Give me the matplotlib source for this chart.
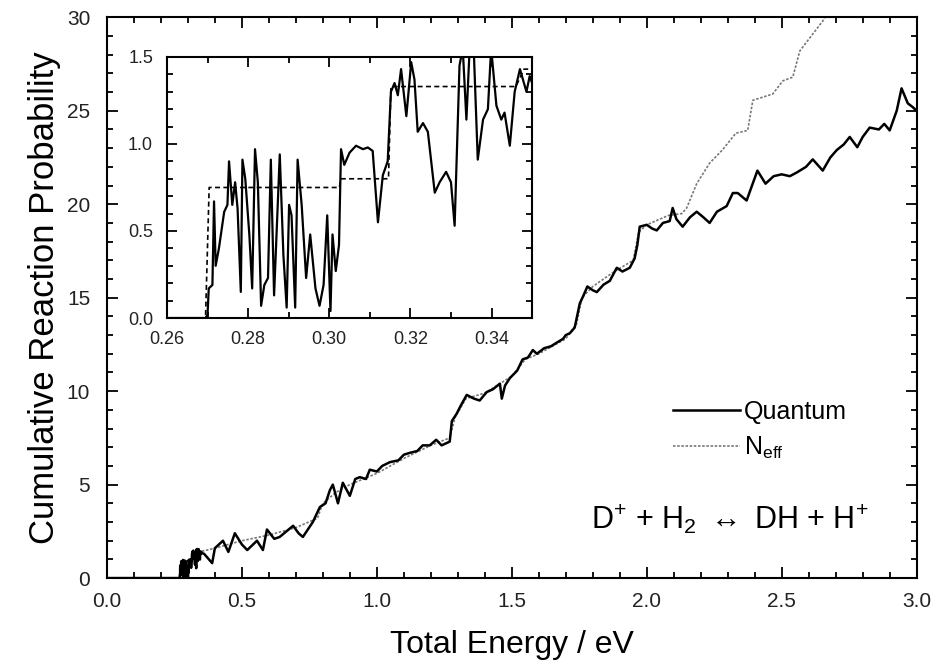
import numpy as np
import matplotlib
matplotlib.use("Agg")
import matplotlib.pyplot as plt
from matplotlib.lines import Line2D
from matplotlib.ticker import MultipleLocator

plt.rcParams['font.family'] = ['Liberation Sans', 'DejaVu Sans']
plt.rcParams['mathtext.fontset'] = 'custom'
plt.rcParams['mathtext.rm'] = 'Liberation Sans'
plt.rcParams['mathtext.it'] = 'Liberation Sans:italic'

# inset: quantum result near threshold
inset_E = [0.2600, 0.2695, 0.2700, 0.2703, 0.2712, 0.2716, 0.2720, 0.2728, 0.2741, 0.2749,
           0.2753, 0.2761, 0.2768, 0.2774, 0.2782, 0.2786, 0.2793, 0.2803, 0.2810, 0.2817,
           0.2824, 0.2832, 0.2840, 0.2849, 0.2856, 0.2864, 0.2878, 0.2887, 0.2895, 0.2901,
           0.2907, 0.2916, 0.2922, 0.2932, 0.2943, 0.2953, 0.2966, 0.2976, 0.2986, 0.2995,
           0.3003, 0.3008, 0.3016, 0.3024, 0.3029, 0.3037, 0.3050, 0.3066, 0.3083, 0.3095,
           0.3107, 0.3120, 0.3132, 0.3144, 0.3152, 0.3161, 0.3169, 0.3177, 0.3190, 0.3202,
           0.3210, 0.3218, 0.3231, 0.3243, 0.3260, 0.3272, 0.3288, 0.3300, 0.3309, 0.3321,
           0.3329, 0.3338, 0.3346, 0.3356, 0.3366, 0.3379, 0.3391, 0.3399, 0.3412, 0.3424,
           0.3432, 0.3445, 0.3457, 0.3470, 0.3486, 0.3494, 0.3500]
inset_Q = [0.0, 0.0, 0.02, 0.17, 0.19, 0.67, 0.30, 0.40, 0.61, 0.65,
           0.90, 0.65, 0.78, 0.63, 0.15, 0.91, 0.80, 0.48, 0.17, 0.97,
           0.78, 0.07, 0.19, 0.23, 0.91, 0.13, 0.94, 0.36, 0.06, 0.65,
           0.59, 0.06, 0.91, 0.65, 0.23, 0.48, 0.17, 0.07, 0.19, 0.59,
           0.04, 0.48, 0.27, 0.42, 0.97, 0.88, 0.95, 0.99, 0.97, 0.98,
           0.96, 0.55, 0.82, 0.90, 1.30, 1.35, 1.28, 1.43, 1.16, 1.47,
           1.37, 1.07, 1.12, 1.07, 0.72, 0.78, 0.84, 0.78, 0.53, 1.45,
           1.55, 1.14, 1.55, 1.55, 0.91, 1.14, 1.20, 1.55, 1.22, 1.14,
           1.18, 0.99, 1.30, 1.43, 1.30, 1.39, 1.35]
inset_NE = [0.2600, 0.2695, 0.2704, 0.3025, 0.3028, 0.3146, 0.3152, 0.3460, 0.3480, 0.3500]
inset_N = [0.0, 0.0, 0.75, 0.75, 0.80, 0.80, 1.33, 1.33, 1.43, 1.43]

# main panel, above 0.35 eV
hi_E = [0.36, 0.39, 0.40, 0.43, 0.45, 0.474, 0.50, 0.52, 0.556, 0.578,
        0.593, 0.62, 0.64, 0.69, 0.71, 0.726, 0.763, 0.789, 0.81, 0.826,
        0.837, 0.856, 0.874, 0.90, 0.92, 0.937, 0.96, 0.974, 1.0, 1.02,
        1.048, 1.08, 1.10, 1.122, 1.15, 1.17, 1.196, 1.22, 1.24, 1.27,
        1.278, 1.296, 1.31, 1.333, 1.36, 1.381, 1.407, 1.43, 1.456, 1.463,
        1.475, 1.493, 1.52, 1.54, 1.56, 1.578, 1.593, 1.62, 1.645, 1.667,
        1.69, 1.70, 1.715, 1.733, 1.752, 1.765, 1.78, 1.80, 1.815, 1.84,
        1.863, 1.889, 1.91, 1.937, 1.955, 1.965, 1.974, 2.0, 2.02, 2.037,
        2.06, 2.085, 2.096, 2.11, 2.133, 2.16, 2.185, 2.21, 2.233, 2.26,
        2.296, 2.319, 2.337, 2.37, 2.39, 2.41, 2.44, 2.47, 2.50, 2.53,
        2.556, 2.59, 2.615, 2.652, 2.68, 2.704, 2.73, 2.752, 2.78, 2.80,
        2.826, 2.86, 2.88, 2.90, 2.926, 2.944, 2.967, 2.985, 3.0]
hi_Q = [1.3, 0.8, 1.6, 2.0, 1.4, 2.4, 1.8, 1.5, 2.0, 1.5,
        2.6, 2.1, 2.2, 2.8, 2.4, 2.2, 3.0, 3.8, 4.0, 4.7,
        5.0, 4.0, 5.1, 4.4, 5.3, 5.4, 5.3, 5.8, 5.7, 6.0,
        6.2, 6.3, 6.6, 6.7, 6.8, 7.1, 7.1, 7.4, 7.1, 7.3,
        8.4, 8.8, 9.2, 9.8, 9.6, 9.5, 9.95, 10.1, 10.4, 9.6,
        10.3, 10.7, 11.1, 11.7, 11.8, 12.2, 12.0, 12.3, 12.4, 12.6,
        12.8, 13.0, 13.1, 13.4, 14.7, 15.1, 15.6, 15.4, 15.3, 15.7,
        15.9, 16.6, 16.4, 16.6, 17.1, 17.8, 18.8, 18.9, 18.7, 18.6,
        19.0, 19.1, 19.8, 19.2, 18.8, 19.3, 19.6, 19.3, 19.0, 19.6,
        19.9, 20.6, 20.6, 20.2, 21.0, 21.8, 21.1, 21.5, 21.6, 21.5,
        21.7, 22.0, 22.4, 21.8, 22.5, 22.9, 23.2, 23.6, 23.05, 23.6,
        24.1, 24.0, 24.3, 23.95, 25.0, 26.2, 25.4, 25.2, 25.0]
hi_NE = [0.40, 0.50, 0.60, 0.70, 0.78, 0.80, 0.85, 0.90, 1.0, 1.1,
         1.2, 1.27, 1.29, 1.33, 1.40, 1.50, 1.55, 1.60, 1.70, 1.74,
         1.76, 1.80, 1.88, 1.95, 1.97, 2.0, 2.08, 2.13, 2.148, 2.185,
         2.233, 2.28, 2.33, 2.374, 2.393, 2.467, 2.504, 2.541, 2.567, 2.604,
         2.652, 2.68]
hi_N = [1.6, 2.0, 2.3, 2.7, 3.2, 4.0, 4.6, 5.0, 5.6, 6.4,
        7.1, 7.5, 8.6, 9.6, 9.9, 10.8, 11.7, 12.0, 12.8, 13.6,
        15.0, 15.6, 16.4, 17.0, 18.5, 18.9, 19.4, 19.5, 19.8, 21.1,
        22.2, 22.9, 23.8, 23.95, 25.56, 25.9, 26.6, 26.8, 28.2, 28.9,
        29.8, 30.5]

E_q = [0.0] + inset_E + hi_E
Q = [0.0] + inset_Q + hi_Q
E_n = [0.0] + inset_NE + hi_NE
N = [0.0] + inset_N + hi_N

fig = plt.figure(figsize=(9.46, 6.66), dpi=100)
ax = fig.add_axes([0.113, 0.132, 0.856, 0.842])

ax.plot(E_n, N, color='#777777', linestyle=(0, (1.5, 1.0)), linewidth=1.2)
ax.plot(E_q, Q, color='black', linewidth=1.8)

ax.set_xlim(0, 3.0)
ax.set_ylim(0, 30)
ax.xaxis.set_major_locator(MultipleLocator(0.5))
ax.xaxis.set_minor_locator(MultipleLocator(0.1))
ax.yaxis.set_major_locator(MultipleLocator(5))
ax.yaxis.set_minor_locator(MultipleLocator(1))
ax.xaxis.set_major_formatter(plt.FormatStrFormatter('%.1f'))
ax.tick_params(which='both', direction='in', top=True, right=True, labelsize=15,
               width=1.3, labelcolor='#222222')
ax.tick_params(axis='x', which='major', length=8, pad=10)
ax.tick_params(axis='y', which='major', length=8, pad=12)
ax.tick_params(which='minor', length=4)
for s in ax.spines.values():
    s.set_linewidth(1.5)
ax.set_xlabel('Total Energy / eV', fontsize=23, labelpad=14)
ax.set_ylabel('Cumulative Reaction Probability', fontsize=25, labelpad=4)

handles = [Line2D([], [], color='black', linewidth=1.8),
           Line2D([], [], color='#777777', linestyle=(0, (1.5, 1.0)), linewidth=1.2)]
ax.legend(handles, ['Quantum', r'N$_{\rm eff}$'], loc='upper left',
          bbox_to_anchor=(0.699, 0.318), frameon=False, fontsize=18,
          handlelength=2.7, handletextpad=0.15, labelspacing=0.45,
          borderpad=0, borderaxespad=0)

ax.text(0.769, 0.105, r'D$^{+}$ + H$_2$ $\leftrightarrow$ DH + H$^{+}$', transform=ax.transAxes,
        ha='center', va='center', fontsize=22)

ins = fig.add_axes([0.1765, 0.5225, 0.386, 0.392])
ins.plot(inset_NE, inset_N, color='black', linestyle=(0, (3, 2)), linewidth=1.2)
ins.plot(inset_E, inset_Q, color='black', linewidth=1.6)
ins.set_xlim(0.26, 0.35)
ins.set_ylim(0, 1.5)
ins.xaxis.set_major_locator(MultipleLocator(0.02))
ins.xaxis.set_minor_locator(MultipleLocator(0.01))
ins.yaxis.set_major_locator(MultipleLocator(0.5))
ins.yaxis.set_minor_locator(MultipleLocator(0.1))
ins.xaxis.set_major_formatter(plt.FormatStrFormatter('%.2f'))
ins.yaxis.set_major_formatter(plt.FormatStrFormatter('%.1f'))
ins.tick_params(which='both', direction='in', top=True, right=True, labelsize=13,
                width=1.3, labelcolor='#222222')
ins.tick_params(axis='x', which='major', length=7, pad=9)
ins.tick_params(axis='y', which='major', length=7, pad=10)
ins.tick_params(which='minor', length=4)
for s in ins.spines.values():
    s.set_linewidth(1.5)

fig.savefig('out.png', dpi=100)
